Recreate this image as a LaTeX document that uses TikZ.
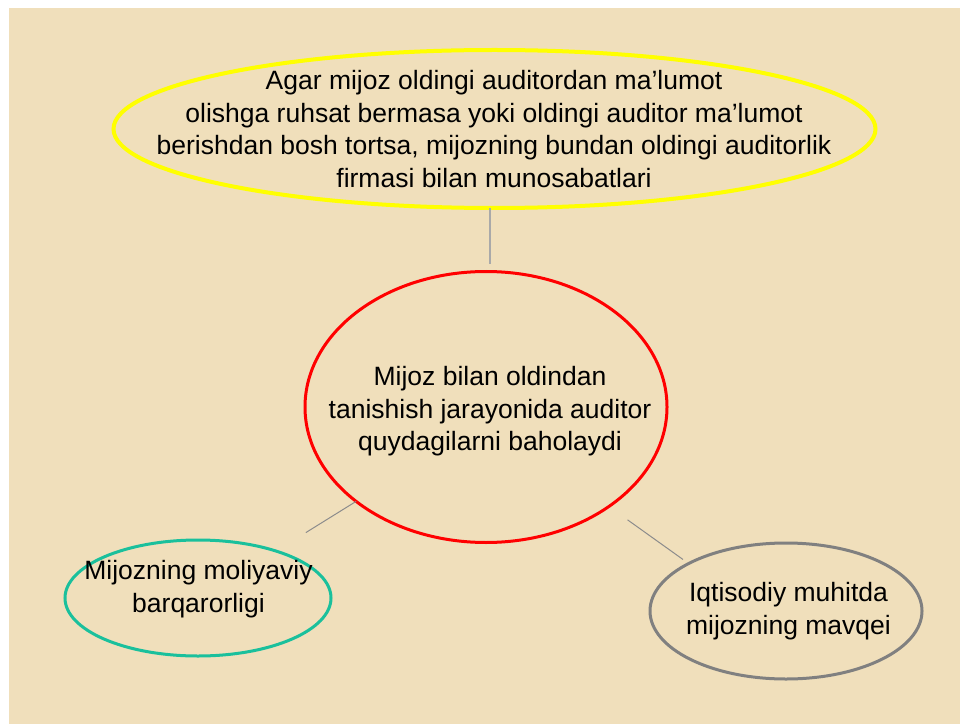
\documentclass[tikz,border=0pt]{standalone}
\usepackage{fontspec}
\setmainfont{Liberation Sans}
\usetikzlibrary{shapes.geometric}
\definecolor{paper}{RGB}{240,223,187}
\definecolor{ovalyellow}{RGB}{255,255,0}
\definecolor{ovalred}{RGB}{255,0,0}
\definecolor{ovalgreen}{RGB}{26,192,156}
\definecolor{ovalgrey}{RGB}{128,128,128}
\definecolor{linkgrey}{RGB}{140,140,140}
\begin{document}
\begin{tikzpicture}[x=1pt,y=1pt,
  oval/.style={ellipse, inner sep=0pt, outer sep=0pt},
  caption/.style={align=center, inner sep=0pt, text=black,
    font=\fontsize{26.5}{32.5}\selectfont},
  link/.style={draw=linkgrey, line width=1pt}]
\useasboundingbox (0,0) rectangle (960,724);
% slide background with its thin white margin
\fill[white] (0,0) rectangle (960,724);
\fill[paper] (9,0) rectangle (960,716);

% ovals
\node[oval, draw=ovalyellow, line width=4pt, minimum width=762pt, minimum height=158pt] (yellow) at (494.5,595) {};
\node[oval, draw=ovalred, line width=3pt, minimum width=362pt, minimum height=271pt] (red) at (486,317) {};
\node[oval, draw=ovalgreen, line width=3pt, minimum width=266pt, minimum height=116pt] (green) at (198,126) {};
\node[oval, draw=ovalgrey, line width=3pt, minimum width=272pt, minimum height=136pt] (grey) at (786,113) {};

% texts
\node[caption] (yellowtext) at (494,595) {Agar mijoz oldingi auditordan ma’lumot\\olishga ruhsat bermasa yoki oldingi auditor ma’lumot\\berishdan bosh tortsa, mijozning bundan oldingi auditorlik\\firmasi bilan munosabatlari};
\node[caption] (redtext) at (490,312.5) {Mijoz bilan oldindan\\tanishish jarayonida auditor\\quydagilarni baholaydi};
\node[caption] (greentext) at (198.5,135) {Mijozning moliyaviy\\barqarorligi};
\node[caption] (greytext) at (788.5,113) {Iqtisodiy muhitda\\mijozning mavqei};

% connectors
\draw[link, draw=linkgrey!75, line width=1.5pt, shorten >=7pt] (yellow.south -| 490,0) -- (red.north -| 490,0);
\draw[link, shorten >=35pt] (red.216) -- (green.31);
\draw[link, shorten <=23pt, shorten >=7pt] (red.-39) -- (grey.154);
\end{tikzpicture}
\end{document}
